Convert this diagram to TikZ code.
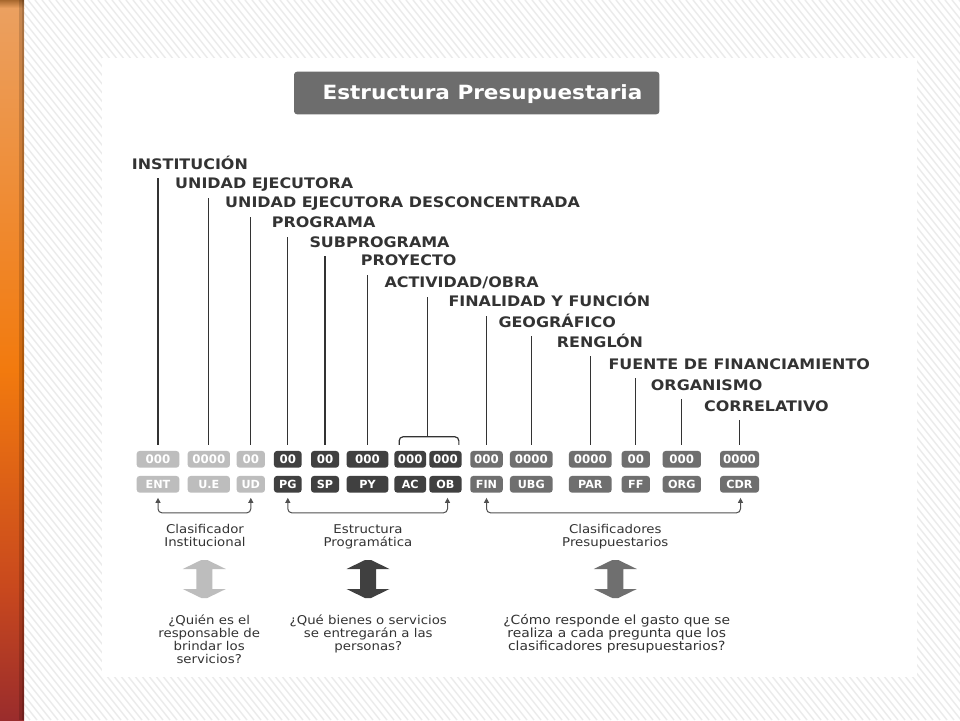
\documentclass[tikz,border=0pt]{standalone}
\usepackage{fontspec}
\setmainfont{DejaVu Sans}
\newfontfamily\vfont{DejaVu Sans}[FakeStretch=1.1]
\usetikzlibrary{arrows.meta}
\definecolor{lightbox}{HTML}{BDBDBD}
\definecolor{darkbox}{HTML}{404040}
\definecolor{midbox}{HTML}{6F6F6F}
\definecolor{titlegray}{HTML}{6D6D6D}
\definecolor{txt}{HTML}{333333}
\definecolor{linec}{HTML}{333333}
\definecolor{arrc}{HTML}{505050}
\definecolor{hatchc}{HTML}{EBEBEB}
\definecolor{obA}{HTML}{A8682E}
\definecolor{obB}{HTML}{EBA060}
\definecolor{obC}{HTML}{F27A0E}
\definecolor{obD}{HTML}{C8481E}
\definecolor{obE}{HTML}{9A2C2C}
\begin{document}
\begin{tikzpicture}[x=1pt,y=-1pt,
  lbl/.style={anchor=base west, inner sep=0pt, text=txt, font=\vfont\bfseries\fontsize{14.5}{17}\selectfont},
  box/.style={rounded corners=3pt, minimum height=16.7pt, inner sep=0pt, text=white},
  topbox/.style={box, font=\bfseries\fontsize{11.8}{12}\selectfont},
  botbox/.style={box, font=\bfseries\fontsize{11.2}{12}\selectfont},
  vline/.style={draw=linec, line width=1.2pt},
  arr/.style={draw=arrc, line width=1pt, rounded corners=4pt, {Triangle[length=5pt,width=5pt]}-{Triangle[length=5pt,width=5pt]}},
  grp/.style={anchor=base, inner sep=0pt, text=txt, font=\vfont\fontsize{12.1}{12.7}\selectfont}
]
\useasboundingbox (0,0) rectangle (960,720);
\fill[white] (0,0) rectangle (960,720);
% hatched background
\begin{scope}
  \clip (24,0) rectangle (960,720);
  \foreach \i in {-84,...,140} { \draw[hatchc, line width=1.4pt] (\i*7,0) -- ++(576,720); }
\end{scope}
% orange bar
\shade[top color=obA, bottom color=obB] (0,0) rectangle (24,8);
\shade[top color=obB, bottom color=obC] (0,8) rectangle (24,370);
\shade[top color=obC, bottom color=obD] (0,370) rectangle (24,590);
\shade[top color=obD, bottom color=obE] (0,590) rectangle (24,720);
\fill[black, opacity=0.15] (19,0) rectangle (24,720);
\fill[black, opacity=0.15] (21.5,0) rectangle (24,720);
% panel
\fill[white] (102,58) rectangle (917,677);
% title
\node[fill=titlegray, rounded corners=3pt, minimum width=365.3pt, minimum height=42.6pt, inner sep=0pt] (tbox) at (476.7,93) {};
\node[anchor=base, inner sep=0pt, text=white, font=\vfont\bfseries\fontsize{19.6}{22}\selectfont] (ttl) at (482.5,99.3) {Estructura Presupuestaria};
% labels
\node[lbl] (l1) at (131.7,169.3) {INSTITUCIÓN};
\node[lbl] (l2) at (175,188.7) {UNIDAD EJECUTORA};
\node[lbl] (l3) at (225,207.7) {UNIDAD EJECUTORA DESCONCENTRADA};
\node[lbl] (l4) at (271.7,227.7) {PROGRAMA};
\node[lbl] (l5) at (309.3,247) {SUBPROGRAMA};
\node[lbl] (l6) at (360.7,265.7) {PROYECTO};
\node[lbl] (l7) at (384.3,287.7) {ACTIVIDAD/OBRA};
\node[lbl] (l8) at (448.3,306.7) {FINALIDAD Y FUNCIÓN};
\node[lbl] (l9) at (498.3,327.3) {GEOGRÁFICO};
\node[lbl] (l10) at (556.7,347.3) {RENGLÓN};
\node[lbl] (l11) at (608.3,369.3) {FUENTE DE FINANCIAMIENTO};
\node[lbl] (l12) at (650.7,390) {ORGANISMO};
\node[lbl] (l13) at (704,411) {CORRELATIVO};
% boxes
\foreach \n/\cx/\w/\tv/\bv/\cc in {
  1/158/42.7/000/ENT/lightbox,
  2/208.8/42.3/0000/U.E/lightbox,
  3/250.8/28.3/00/UD/lightbox,
  4/287.8/27.7/00/PG/darkbox,
  5/325/28/00/SP/darkbox,
  6/367.5/41.7/000/PY/darkbox,
  7/410.2/31.7/000/AC/darkbox,
  8/445.5/32.3/000/OB/darkbox,
  9/486.5/32.5/000/FIN/midbox,
  10/531.3/42.7/0000/UBG/midbox,
  11/590.3/42.7/0000/PAR/midbox,
  12/635.8/28.3/00/FF/midbox,
  13/681.8/38.3/000/ORG/midbox,
  14/739.5/39/0000/CDR/midbox}{
  \node[topbox, fill=\cc, minimum width=\w] (t\n) at (\cx,459.3) {\tv};
  \node[botbox, fill=\cc, minimum width=\w] (b\n) at (\cx,484.3) {\bv};
}
% vertical connectors
\foreach \n/\c in {1/1,2/2,3/3,4/4,5/5,6/6,8/9,9/10,10/11,11/12,12/13,13/14}{
  \draw[vline] ([yshift=6pt]t\c.north) -- ([yshift=-9pt]t\c.north |- l\n.base);
}
% bracket over AC/OB
\draw[vline, rounded corners=4pt] ([xshift=5pt,yshift=6pt]t7.north west) -- ([xshift=5pt,yshift=14pt]t7.north west) -- ([xshift=-3pt,yshift=14pt]t8.north east) -- ([xshift=-3pt,yshift=6pt]t8.north east);
\path ([yshift=14pt]t7.north east) -- coordinate[pos=0.5] (bm) ([yshift=14pt]t8.north west);
\draw[vline] (bm) -- ([yshift=-9pt]bm |- l7.base);
% bottom arrows
\draw[arr] ([yshift=-5pt]b1.south) -- ([yshift=-20pt]b1.south) -| ([yshift=-5pt]b3.south);
\draw[arr] ([yshift=-5pt]b4.south) -- ([yshift=-20pt]b4.south) -| ([xshift=2pt,yshift=-5pt]b8.south);
\draw[arr] ([yshift=-5pt]b9.south) -- ([yshift=-20pt]b9.south) -| ([xshift=1pt,yshift=-5pt]b14.south);
% group texts
\node[grp] (g1) at (205,533.3) {\begin{tabular}[t]{@{}c@{}}Clasificador\\Institucional\end{tabular}};
\node[grp] (g2) at (368,533.3) {\begin{tabular}[t]{@{}c@{}}Estructura\\Programática\end{tabular}};
\node[grp] (g3) at (615.3,533.3) {\begin{tabular}[t]{@{}c@{}}Clasificadores\\Presupuestarios\end{tabular}};
% block arrows
\foreach \cx/\cc in {204.3/lightbox,368/darkbox,615.3/midbox}{
  \fill[\cc] (\cx-3,560) -- (\cx+3,560) -- (\cx+21.5,569) -- (\cx+8,569) -- (\cx+8,589) -- (\cx+21.5,589) -- (\cx+3,598) -- (\cx-3,598) -- (\cx-21.5,589) -- (\cx-8,589) -- (\cx-8,569) -- (\cx-21.5,569) -- cycle;
}
% questions
\node[grp] (q1) at (209.2,624) {\begin{tabular}[t]{@{}c@{}}¿Quién es el\\responsable de\\brindar los\\servicios?\end{tabular}};
\node[grp] (q2) at (368.3,624) {\begin{tabular}[t]{@{}c@{}}¿Qué bienes o servicios\\se entregarán a las\\personas?\end{tabular}};
\node[grp, font=\vfont\fontsize{12.6}{12.7}\selectfont] (q3) at (616.7,624) {\begin{tabular}[t]{@{}c@{}}¿Cómo responde el gasto que se\\realiza a cada pregunta que los\\clasificadores presupuestarios?\end{tabular}};
\end{tikzpicture}
\end{document}
